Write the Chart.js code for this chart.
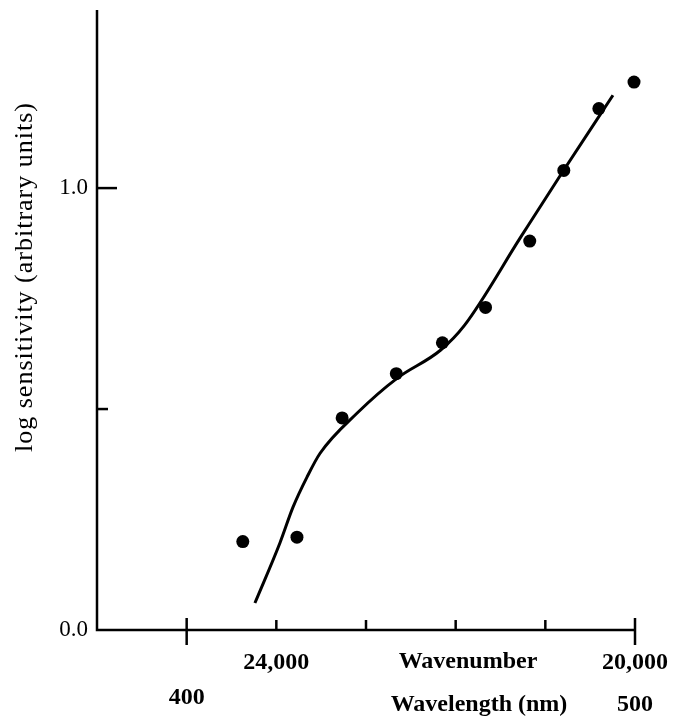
<!DOCTYPE html>
<html>
<head>
<meta charset="utf-8">
<script src="https://cdn.jsdelivr.net/npm/chart.js@4.4.1/dist/chart.umd.min.js"></script>
<style>
  html, body { margin: 0; padding: 0; background: #fff; }
  #wrap { width: 683px; height: 718px; position: relative; }
</style>
</head>
<body>
<div id="wrap"><canvas id="chart"></canvas></div>
<script>
// --- Measured points (wavenumber in cm^-1, log sensitivity) ---
var wavenumbers = [24374, 23770, 23266, 22662, 22148, 21667, 21174, 20794, 20403, 20011];
var sensitivity = [0.20, 0.21, 0.48, 0.58, 0.65, 0.73, 0.88, 1.04, 1.18, 1.24];

// --- Hand-drawn fitted curve ---
var fitWavenumbers = [24239, 23960, 23814, 23658, 23512, 23098, 22651, 22170, 21900, 21275, 20794, 20246];
var fitSensitivity = [0.061, 0.197, 0.278, 0.346, 0.400, 0.491, 0.570, 0.633, 0.690, 0.889, 1.041, 1.210];

// --- Axes ---
var xTicks = [25000, 24000, 23000, 22000, 21000, 20000];
var xLongTicks = [25000, 20000];
var xTickLabels = { 24000: '24,000', 20000: '20,000' };
var yTicks = [0, 0.5, 1.0];
var yTickLabels = { 0: '0.0', 1: '1.0' };
var wavelengthTicks = [400, 500];

var SERIF = '"Liberation Serif", "Times New Roman", serif';

function pairs(xs, ys) {
  return xs.map(function (x, i) { return { x: x, y: ys[i] }; });
}

// Axis lines, inward ticks and the extra labels
var framePlugin = {
  id: 'frame',
  afterDraw: function (chart) {
    var ctx = chart.ctx;
    var xs = chart.scales.x;
    var ys = chart.scales.y;
    var a = chart.chartArea;
    ctx.save();
    ctx.strokeStyle = '#000';
    ctx.lineWidth = 2.5;
    ctx.lineCap = 'butt';

    ctx.beginPath();
    ctx.moveTo(a.left, a.top);
    ctx.lineTo(a.left, a.bottom);
    ctx.lineTo(a.right, a.bottom);
    ctx.stroke();

    xTicks.forEach(function (v) {
      var px = xs.getPixelForValue(v);
      var long = xLongTicks.indexOf(v) >= 0;
      ctx.beginPath();
      ctx.moveTo(px, a.bottom - (long ? 12 : 10));
      ctx.lineTo(px, a.bottom + (long ? 15 : 0));
      ctx.stroke();
    });

    yTicks.forEach(function (v) {
      if (v === 0) return;
      var py = ys.getPixelForValue(v);
      ctx.beginPath();
      ctx.moveTo(a.left, py);
      ctx.lineTo(a.left + (v === 1 ? 20 : 11), py);
      ctx.stroke();
    });

    ctx.fillStyle = '#000';
    ctx.textAlign = 'center';
    ctx.textBaseline = 'middle';
    ctx.font = 'bold 24px ' + SERIF;
    ctx.fillText('Wavenumber', 468, a.bottom + 32);
    ctx.fillText('Wavelength (nm)', 479, a.bottom + 75);
    wavelengthTicks.forEach(function (nm) {
      var px = xs.getPixelForValue(1e7 / nm);
      ctx.fillText(String(nm), px, a.bottom + (nm === 400 ? 68 : 75));
    });

    ctx.translate(25, 277);
    ctx.rotate(-Math.PI / 2);
    ctx.font = '26px ' + SERIF;
    if ('letterSpacing' in ctx) ctx.letterSpacing = '1px';
    ctx.fillText('log sensitivity (arbitrary units)', 0, 0);
    ctx.restore();
  }
};

new Chart(document.getElementById('chart').getContext('2d'), {
  data: {
    datasets: [
      {
        type: 'line',
        data: pairs(fitWavenumbers, fitSensitivity),
        borderColor: '#000',
        borderWidth: 3,
        pointRadius: 0,
        cubicInterpolationMode: 'monotone',
        fill: false,
        clip: false
      },
      {
        type: 'scatter',
        data: pairs(wavenumbers, sensitivity),
        backgroundColor: '#000',
        borderWidth: 0,
        pointRadius: 6.5,
        clip: false
      }
    ]
  },
  options: {
    responsive: true,
    maintainAspectRatio: false,
    animation: false,
    layout: { padding: { top: 10, right: 48, left: 0, bottom: 0 } },
    plugins: { legend: { display: false }, tooltip: { enabled: false } },
    scales: {
      x: {
        type: 'linear',
        reverse: true,
        min: 20000,
        max: 26000,
        grid: { display: false, drawTicks: false },
        border: { display: false },
        afterBuildTicks: function (s) {
          s.ticks = xTicks.map(function (v) { return { value: v }; });
        },
        afterFit: function (s) {
          s.height = 88;
          s.paddingLeft = 0;
          s.paddingRight = 0;
        },
        ticks: {
          autoSkip: false,
          maxRotation: 0,
          padding: 18,
          color: '#000',
          font: { family: SERIF, size: 24, weight: 'bold' },
          callback: function (v) { return xTickLabels[v] || ''; }
        }
      },
      y: {
        min: 0,
        max: 1.403,
        grid: { display: false, drawTicks: false },
        border: { display: false },
        afterBuildTicks: function (s) {
          s.ticks = yTicks.map(function (v) { return { value: v }; });
        },
        afterFit: function (s) {
          s.width = 97;
          s.paddingTop = 0;
          s.paddingBottom = 0;
        },
        ticks: {
          padding: 9,
          color: '#000',
          font: { family: SERIF, size: 23 },
          callback: function (v) { return yTickLabels[v] || ''; }
        }
      }
    }
  },
  plugins: [framePlugin]
});
</script>
</body>
</html>
